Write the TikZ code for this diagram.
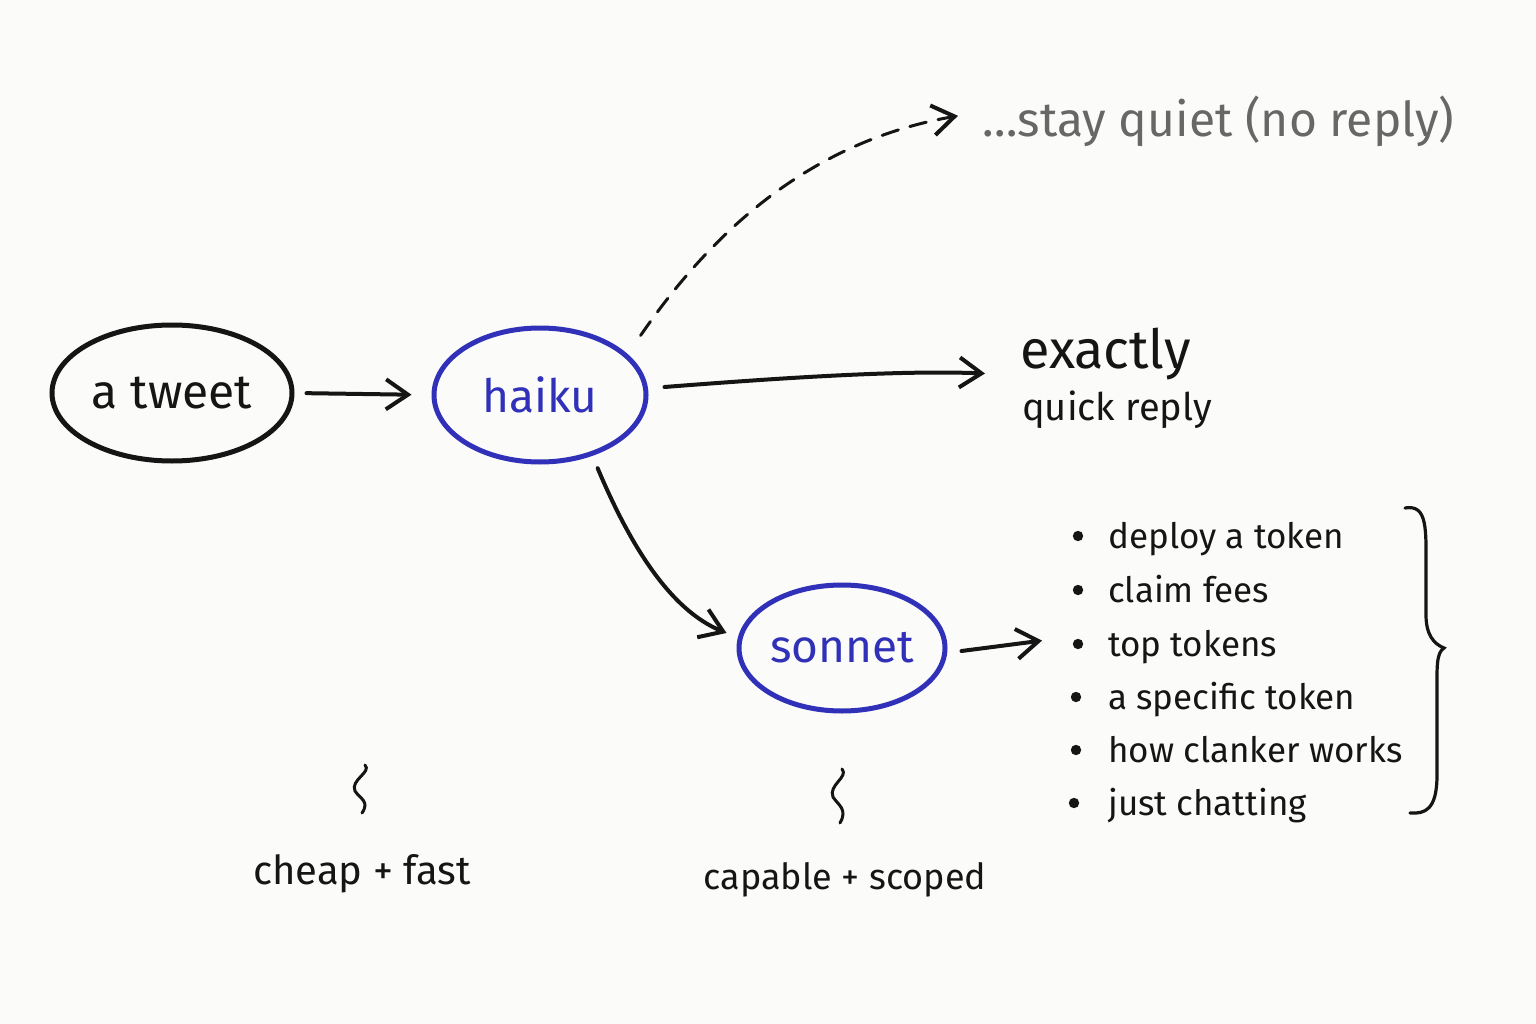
\documentclass[tikz,border=0pt]{standalone}
\usepackage{fontspec}
\setmainfont{Fira Sans}
\usetikzlibrary{shapes.geometric,arrows.meta,calc}
\definecolor{bg}{HTML}{FBFBF9}
\definecolor{ink}{HTML}{151515}
\definecolor{blueink}{HTML}{3030B8}
\definecolor{grayink}{HTML}{676767}
\tikzset{
  bubble/.style={ellipse, draw, line width=5pt, inner sep=0pt},
  arr/.style={line width=4pt, draw=ink, line cap=round, -{Straight Barb[length=22pt,width=30pt,line width=4pt]}},
  listitem/.style={anchor=base west, inner sep=0pt, font=\fontsize{35}{40}\selectfont, text=ink},
  dot/.style={fill=ink},
  squig/.style={line width=3pt, draw=ink, line cap=round},
}
\begin{document}
\begin{tikzpicture}[x=1pt,y=-1pt]
\fill[bg] (0,0) rectangle (1536,1024);
\useasboundingbox (0,0) rectangle (1536,1024);

% main nodes
\node[bubble, draw=ink, minimum width=240pt, minimum height=136pt, text=ink,
      font=\fontsize{48}{52}\selectfont] (tweet) at (172,393) {a tweet};
\node[bubble, draw=blueink, minimum width=212pt, minimum height=134pt, text=blueink,
      font=\fontsize{46}{50}\selectfont] (haiku) at (540,395) {haiku};
\node[bubble, draw=blueink, minimum width=206pt, minimum height=126pt, text=blueink,
      font=\fontsize{46}{50}\selectfont] (sonnet) at (842,648) {sonnet};

% outcome texts
\node[anchor=base west, inner sep=0pt, text=ink, font=\fontsize{54}{58}\selectfont] (exactly) at (1020,368) {exactly};
\node[anchor=base west, inner sep=0pt, text=ink, font=\fontsize{38}{42}\selectfont] (quick) at (1022,420) {quick reply};
\node[anchor=base west, inner sep=0pt, text=grayink, font=\fontsize{48}{52}\selectfont] (quiet) at (982,137) {\dots stay quiet (no reply)};

% list
\node[listitem] (l1) at (1108,548) {deploy a token};
\node[listitem] (l2) at (1108,602) {claim fees};
\node[listitem] (l3) at (1108,656) {top tokens};
\node[listitem] (l4) at (1108,709) {a specific token};
\node[listitem] (l5) at (1108,762) {how clanker works};
\node[listitem] (l6) at (1108,815) {just chatting};
\foreach \n/\dx in {l1/-30,l2/-30,l3/-30,l4/-32,l5/-32,l6/-34}
  \fill[dot] ($(\n.base west)+(\dx,-12)$) circle (5.2);

% captions
\node[anchor=base, inner sep=0pt, text=ink, font=\fontsize{40}{44}\selectfont] (cheap) at (362,884) {cheap + fast};
\node[anchor=base, inner sep=0pt, text=ink, font=\fontsize{36}{40}\selectfont] (capable) at (845,889) {capable + scoped};

% connectors
\draw[arr, shorten <=12pt, shorten >=20pt] (tweet.east) -- (haiku.west);
\draw[arr] ($(haiku.east)+(16,-8)$) .. controls (780,378) and (900,370) .. ($(exactly.west)+(-35,20)$);
\draw[arr] ($(haiku.-60)+(20,8)$) .. controls (630,545) and (670,610) .. ($(sonnet.west)+(-10,-15)$);
\draw[arr, line width=3pt, dashed, dash pattern=on 17pt off 12pt] ($(haiku.30)+(20,-13)$) .. controls (720,220) and (820,140) .. ($(quiet.west)+(-24,-6)$);
\draw[arr] ($(sonnet.east)+(14,3)$) -- ($(l3.west)+(-66,-6)$);

% brace
\draw[squig, line width=3.2pt] (1405,508) .. controls (1428,504) and (1426,530) .. (1426,570)
  -- (1426,615) .. controls (1426,635) and (1434,644) .. (1444,648)
  .. controls (1436,653) and (1437,668) .. (1437,695)
  -- (1437,775) .. controls (1437,810) and (1425,814) .. (1410,813);

% squiggles
\draw[squig] (365,765) .. controls (372,772) and (350,780) .. (355,791)
  .. controls (360,799) and (370,801) .. (362,813);
\draw[squig] (842,769) .. controls (849,777) and (828,785) .. (833,797)
  .. controls (838,805) and (848,809) .. (840,823);
\end{tikzpicture}
\end{document}
